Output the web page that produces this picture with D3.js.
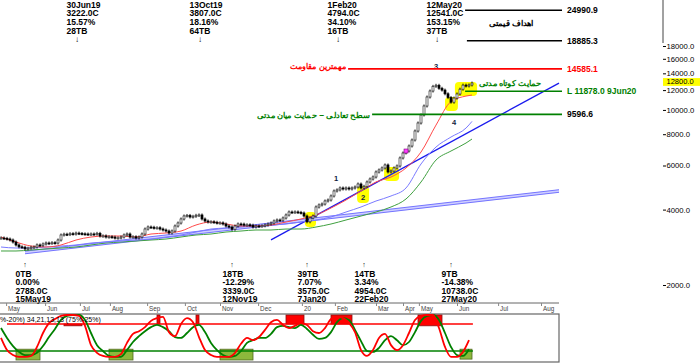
<!DOCTYPE html>
<html>
<head>
<meta charset="utf-8">
<script src="https://cdn.jsdelivr.net/npm/d3@7"></script>
<style>
  body { margin: 0; background: #fff; overflow: hidden; }
  svg { display: block; }
  text { font-family: "Liberation Sans", Arial, sans-serif; }
  .fa { font-family: "DejaVu Sans", sans-serif; font-weight: bold; }
</style>
</head>
<body>
<svg></svg>
<script>
// daily closes, one value per bar (May 2019 .. Jun 2020)
const closes = [3081, 3070, 3052, 3024, 2969, 2889, 2840, 2830, 2788, 2805,
  2830, 2836, 2889, 2880, 2915, 2942, 2935, 2950, 2942, 3024,
  3167, 3190, 3180, 3205, 3195, 3222, 3210, 3200, 3196, 3185,
  3196, 3190, 3215, 3138, 3140, 3109, 3115, 3105, 3081, 3085,
  3109, 3167, 3196, 3109, 3115, 3081, 3109, 3196, 3346, 3408,
  3400, 3377, 3385, 3346, 3316, 3285, 3226, 3285, 3440, 3536,
  3669, 3771, 3790, 3737, 3760, 3795, 3807, 3669, 3602, 3569,
  3575, 3560, 3536, 3540, 3504, 3440, 3408, 3339, 3440, 3504,
  3500, 3472, 3478, 3465, 3408, 3440, 3435, 3445, 3472, 3504,
  3536, 3602, 3635, 3630, 3702, 3806, 3912, 3905, 3915, 3900,
  3877, 3771, 3575, 3702, 3771, 4097, 4173, 4211, 4329, 4369,
  4533, 4746, 4794, 4879, 4834, 4879, 4834, 4879, 4924, 5061,
  4879, 4954, 5155, 5299, 5398, 5652, 5757, 5864, 6028, 5652,
  5704, 5864, 5973, 6430, 6730, 6855, 7177, 7584, 8238, 8867,
  9544, 10367, 11261, 11900, 12420, 12541, 12200, 12000, 11600, 11200,
  10738, 11150, 11580, 12100, 12560, 12460, 12580, 12800];

// moving averages, read every 5 bars plus the last bar
const maBars = d3.range(0, 156, 5).concat([157]);
const maFast = [3109, 2969, 2862, 2836, 2889, 3024, 3109, 3138, 3138, 3109, 3196, 3226, 3285, 3472, 3569, 3504,
  3440, 3440, 3472, 3569, 3669, 3806, 4059, 4369, 4746, 5155, 5398, 5864, 6790, 8700, 10800, 11360, 11470];
const maMid = [2836, 2810, 2810, 2836, 2862, 2889, 2942, 2969, 2997, 3024, 3052, 3109, 3167, 3255, 3346, 3377,
  3408, 3440, 3472, 3504, 3569, 3635, 3737, 3912, 4097, 4329, 4533, 4879, 6084, 7110, 7795, 8464, 9000];
const maSlow = [2734, 2734, 2759, 2785, 2810, 2836, 2889, 2942, 2969, 2997, 3024, 3052, 3109, 3167, 3196, 3255,
  3285, 3316, 3316, 3346, 3346, 3408, 3504, 3635, 3771, 3912, 4097, 4410, 5155, 6309, 6855, 7376, 7654];

// trend lines: [bar, price] end points
const trendSteep = [[90, 3030], [186, 12800]];
const trendLong = [[8, 2697], [186, 4745]];

// price targets / support / resistance
const levelValues = [24990.9, 18885.3, 14585.1, 11878.0, 9596.6];
const levelLabels = ["24990.9", "18885.3", "14585.1", "L 11878.0 9Jun20", "9596.6"];
const levelStartBars = [154.7, 155.3, 115.7, 154.7, 123.7];
const levelEndBar = 187;

// zigzag turning points
const peakDates = ["30Jun19", "13Oct19", "1Feb20", "12May20"];
const peakBars = [25, 66, 112, 145];
const peakCloses = [3222.0, 3807.0, 4794.0, 12541.0];
const peakPct = ["15.57%", "18.16%", "34.10%", "153.15%"];
const peakTB = ["28TB", "64TB", "16TB", "37TB"];

const troughDates = ["15May19", "12Nov19", "7Jan20", "22Feb20", "27May20"];
const troughBars = [8, 77, 102, 121, 150];
const troughCloses = [2788.0, 3339.0, 3575.0, 4954.0, 10738.0];
const troughPct = ["0.00%", "-12.29%", "7.07%", "3.34%", "-14.38%"];
const troughTB = ["0TB", "18TB", "39TB", "14TB", "9TB"];

// wave counts
const waveLabels = ["1", "2", "3", "4"];
const waveBars = [111.7, 120.7, 145, 151];
const wavePrices = [5348, 4491, 14966, 8948];

// yellow highlighted zones
const hlBar0 = [101.3, 118.7, 127.7, 148, 151.3];
const hlBar1 = [105, 122.7, 132.7, 152.3, 158.7];
const hlHigh = [3912, 4969, 5918, 11261, 12926];
const hlLow = [3408, 4250, 5203, 9903, 11360];

// price axis
const priceTicks = [18000, 16000, 14000, 12000, 10000, 8000, 6000, 4000, 2000];

// month axis
const monthLabels = ["May", "Jun", "Jul", "Aug", "Sep", "Oct", "Nov", "Dec", "20", "Feb", "Mar", "Apr", "May", "Jun", "Jul", "Aug"];
const monthBars = [1.7, 14.7, 26.3, 36.3, 48.7, 61.3, 73, 85.7, 100.3, 111.3, 125, 134, 139.3, 152, 165.7, 180];

// stochastic 34,21,13,13 every 2 bars
const stochBars = d3.range(0, 157, 2);
const stochK = [49, 22, 11, 7, 7, 9, 29, 60, 82, 91, 98, 100, 100, 98, 76, 33, 16, 9, 7, 7,
  13, 38, 58, 64, 73, 87, 93, 96, 62, 53, 80, 93, 84, 51, 22, 11, 7, 7, 7, 16,
  36, 49, 44, 51, 67, 84, 89, 78, 71, 76, 82, 78, 64, 60, 71, 91, 96, 93, 82, 62,
  22, 9, 22, 49, 58, 33, 22, 33, 60, 89, 98, 100, 100, 71, 29, 7, 7, 18, 44];
const stochD = [71, 49, 31, 18, 11, 11, 16, 31, 51, 69, 89, 98, 100, 100, 89, 60, 33, 20, 9, 7,
  7, 22, 40, 53, 64, 73, 78, 73, 64, 51, 49, 60, 73, 78, 62, 38, 22, 11, 7, 9,
  20, 38, 44, 49, 49, 58, 73, 76, 73, 71, 78, 69, 56, 47, 49, 62, 84, 93, 89, 67,
  42, 20, 18, 27, 44, 53, 44, 33, 40, 62, 87, 98, 100, 89, 60, 29, 11, 9, 24];
const obStart = [21, 52, 65, 95, 110, 139];
const obEnd = [27, 53, 66, 101, 117, 147];
const obTop = [80, 100, 100, 100, 100, 100];
const obBottom = [76, 80, 80, 80, 80, 76];
const osStart = [5, 36, 73, 153];
const osEnd = [13, 44, 84, 157];
const osTop = [24, 24, 24, 24];
const osBottom = [0, 0, 0, 2];

const width = 700, height = 363;
const svg = d3.select("svg").attr("width", width).attr("height", height);

const x = d3.scaleLinear().domain([0, 157]).range([1, 472]);
const y = d3.scaleLog().domain([2000, 18000]).range([285, 46]);
const ys = d3.scaleLinear().domain([0, 100]).range([360, 315]);
const fmt = d3.format(".1f");

//gelbe Markierungen
svg.append("g")
    .selectAll("rect")
    .data(hlBar0)
    .enter()
    .append("rect")
    .attr("x", d => x(d))
    .attr("width", (d, i) => x(hlBar1[i]) - x(d))
    .attr("y", (d, i) => y(hlHigh[i]))
    .attr("height", (d, i) => y(hlLow[i]) - y(hlHigh[i]))
    .attr("rx", 4)
    .attr("fill", "#ffff00");

//Trendlinien
const tl = d3.line().x(d => x(d[0])).y(d => y(d[1]));
svg.append("path").attr("d", tl(trendLong))
    .attr("fill", "none").attr("stroke", "#cfcfff").attr("stroke-width", 3);
[-1.3, 1.3].forEach(off => {
    svg.append("path").attr("d", tl(trendLong))
        .attr("transform", `translate(0,${off})`)
        .attr("fill", "none").attr("stroke", "#5a5aff").attr("stroke-width", 0.8);
});
svg.append("path").attr("d", tl(trendSteep))
    .attr("fill", "none").attr("stroke", "#1a1aee").attr("stroke-width", 1.3);

//gleitende Durchschnitte
const maLine = d3.line().curve(d3.curveMonotoneX).x((d, i) => x(maBars[i])).y(d => y(d));
[[maSlow, "#3fa03f"], [maMid, "#7a7aff"], [maFast, "#ff4a4a"]].forEach(m => {
    svg.append("path").attr("d", maLine(m[0]))
        .attr("fill", "none").attr("stroke", m[1]).attr("stroke-width", 1);
});

//Kerzen
const openOf = i => i ? closes[i - 1] : closes[0];
const candles = svg.append("g").attr("class", "candles")
    .selectAll("g")
    .data(closes)
    .enter()
    .append("g");
candles.append("line")
    .attr("x1", (d, i) => x(i)).attr("x2", (d, i) => x(i))
    .attr("y1", (d, i) => y(Math.max(d, openOf(i))) - 1.5)
    .attr("y2", (d, i) => y(Math.min(d, openOf(i))) + 1.5)
    .attr("stroke", "#111").attr("stroke-width", 1);
candles.append("rect")
    .attr("x", (d, i) => x(i) - 1)
    .attr("width", 2)
    .attr("y", (d, i) => y(Math.max(d, openOf(i))))
    .attr("height", (d, i) => Math.max(1, y(Math.min(d, openOf(i))) - y(Math.max(d, openOf(i)))))
    .attr("fill", (d, i) => d >= openOf(i) ? "#fff" : "#000")
    .attr("stroke", (d, i) => d >= openOf(i) ? "#333" : "#000")
    .attr("stroke-width", 0.7);

//magenta Punkt
svg.append("rect")
    .attr("x", x(135) - 2).attr("y", y(closes[135]) - 2)
    .attr("width", 4).attr("height", 4)
    .attr("fill", "#ff40ff").attr("stroke", "#800080").attr("stroke-width", 0.6);

//Wellen
svg.append("g").selectAll("text")
    .data(waveLabels)
    .enter()
    .append("text")
    .attr("x", (d, i) => x(waveBars[i]))
    .attr("y", (d, i) => y(wavePrices[i]) + 3)
    .attr("text-anchor", "middle")
    .attr("font-size", 7.5).attr("font-weight", "bold").attr("fill", "#102040")
    .text(d => d);

//Niveaus
const levelColors = ["#000", "#000", "#ff0000", "#008000", "#008000"];
const levelTextColors = ["#000", "#000", "#ff0000", "#008000", "#000"];
svg.append("g").selectAll("line")
    .data(levelValues)
    .enter()
    .append("line")
    .attr("x1", (d, i) => x(levelStartBars[i]))
    .attr("x2", x(levelEndBar))
    .attr("y1", d => y(d)).attr("y2", d => y(d))
    .attr("stroke", (d, i) => levelColors[i]).attr("stroke-width", 1.6);
svg.append("g").selectAll("text")
    .data(levelValues)
    .enter()
    .append("text")
    .attr("x", x(levelEndBar) + 5)
    .attr("y", d => y(d) + 3)
    .attr("font-size", 8.5).attr("font-weight", "bold")
    .attr("fill", (d, i) => levelTextColors[i])
    .text((d, i) => levelLabels[i]);

//persische Beschriftungen
const fa = svg.append("g").attr("class", "fa").attr("text-anchor", "middle").attr("font-size", 8.3);
fa.append("text").attr("x", x(levelStartBars[0]) + 46).attr("y", Math.sqrt(y(levelValues[0]) * y(levelValues[1])) + 5)
    .attr("fill", "#000").attr("textLength", 45).attr("lengthAdjust", "spacingAndGlyphs")
    .text("اهداف قیمتی");
fa.append("text").attr("x", x(levelStartBars[2]) - 30).attr("y", y(levelValues[2]) + 0.5)
    .attr("fill", "#ff0000").attr("textLength", 56).attr("lengthAdjust", "spacingAndGlyphs")
    .text("مهمترین مقاومت");
fa.append("text").attr("x", x(levelStartBars[3]) + 45).attr("y", y(levelValues[3]) - 5)
    .attr("fill", "#008000").attr("textLength", 62).attr("lengthAdjust", "spacingAndGlyphs")
    .text("حمایت کوتاه مدتی");
fa.append("text").attr("x", x(levelStartBars[4]) - 58.5).attr("y", y(levelValues[4]) + 3.5)
    .attr("fill", "#008000").attr("textLength", 113).attr("lengthAdjust", "spacingAndGlyphs")
    .text("سطح تعادلی – حمایت میان مدتی");

//Hochpunkte oben
const peakLines = [peakDates, peakCloses.map(v => fmt(v) + "C"), peakPct, peakTB];
const peaks = svg.append("g").attr("font-size", 8.5).attr("font-weight", "bold");
peakLines.forEach((arr, k) => {
    peaks.append("g").selectAll("text")
        .data(arr)
        .enter()
        .append("text")
        .attr("x", (d, i) => x(peakBars[i]) - 9.5)
        .attr("y", 7.5 + k * 8.8)
        .text(d => d);
});
peaks.append("g").selectAll("text")
    .data(peakBars)
    .enter()
    .append("text")
    .attr("x", d => x(d) + 1)
    .attr("y", 42)
    .attr("text-anchor", "middle")
    .attr("font-weight", "normal").attr("font-size", 8)
    .attr("font-family", "DejaVu Sans")
    .text("↓");

//Tiefpunkte unten
const troughLines = [troughTB, troughPct, troughCloses.map(v => fmt(v) + "C"), troughDates];
const troughs = svg.append("g").attr("font-size", 8.5).attr("font-weight", "bold");
troughLines.forEach((arr, k) => {
    troughs.append("g").selectAll("text")
        .data(arr)
        .enter()
        .append("text")
        .attr("x", (d, i) => x(troughBars[i]) - 9.5)
        .attr("y", 276.5 + k * 8.6)
        .text(d => d);
});
troughs.append("g").selectAll("text")
    .data(troughBars)
    .enter()
    .append("text")
    .attr("x", d => x(d))
    .attr("y", 267)
    .attr("text-anchor", "middle")
    .attr("font-weight", "normal").attr("font-size", 7)
    .attr("font-family", "DejaVu Sans")
    .text("↑");

//Preisachse
const axisX = 663;
svg.append("line")
    .attr("x1", axisX).attr("x2", axisX)
    .attr("y1", 0).attr("y2", y(priceTicks[0]) - 3)
    .attr("stroke", "#444");
const yAxis = svg.append("g")
    .attr("transform", `translate(${axisX},0)`)
    .call(d3.axisRight(y).tickValues(priceTicks).tickFormat(fmt).tickSize(3).tickPadding(0.5));
yAxis.select(".domain").remove();
yAxis.attr("font-family", "Liberation Sans").attr("font-size", 7.7);
yAxis.selectAll("text").attr("fill", "#000");
yAxis.selectAll("line").attr("stroke", "#000");

const last = closes[closes.length - 1];
svg.append("rect")
    .attr("x", axisX).attr("width", width - axisX)
    .attr("y", y(last) - 5).attr("height", 7.8)
    .attr("fill", "#ffff00");
svg.append("text")
    .attr("x", axisX + 3.5).attr("y", y(last) + 1.3)
    .attr("font-size", 7.5).attr("fill", "#000")
    .text(fmt(last));

//Monatsachse
const rightBar = 186;
svg.append("line")
    .attr("x1", 0).attr("x2", x(rightBar))
    .attr("y1", 303).attr("y2", 303)
    .attr("stroke", "#666").attr("stroke-width", 1);
const xAxis = svg.append("g")
    .attr("transform", "translate(0,303)")
    .call(d3.axisBottom(x).tickValues(monthBars).tickFormat((d, i) => monthLabels[i]).tickSize(3));
xAxis.select(".domain").remove();
xAxis.attr("font-size", 6.3).attr("font-family", "Liberation Sans");
xAxis.selectAll("line").attr("stroke", "#888");
xAxis.selectAll("text").attr("text-anchor", "start").attr("x", 1.5).attr("y", 4).attr("fill", "#444");

//Stochastik
const st = svg.append("g");
st.append("rect")
    .attr("x", -1).attr("y", 314)
    .attr("width", x(rightBar) + 1).attr("height", 48)
    .attr("fill", "#fff").attr("stroke", "#666").attr("stroke-width", 1.2);

st.append("g").selectAll("rect")
    .data(obStart)
    .enter()
    .append("rect")
    .attr("x", d => x(d))
    .attr("width", (d, i) => x(obEnd[i]) - x(d))
    .attr("y", (d, i) => ys(obTop[i]))
    .attr("height", (d, i) => ys(obBottom[i]) - ys(obTop[i]))
    .attr("fill", "#ff0000").attr("stroke", "#8a1010").attr("stroke-width", 0.8);
st.append("g").selectAll("rect")
    .data(osStart)
    .enter()
    .append("rect")
    .attr("x", d => x(d))
    .attr("width", (d, i) => x(osEnd[i]) - x(d))
    .attr("y", (d, i) => ys(osTop[i]))
    .attr("height", (d, i) => ys(osBottom[i]) - ys(osTop[i]))
    .attr("fill", "#8db83c").attr("stroke", "#4f6a1e").attr("stroke-width", 0.8);

st.append("line")
    .attr("x1", x(2)).attr("x2", x(157.3))
    .attr("y1", ys(80)).attr("y2", ys(80))
    .attr("stroke", "#ff0000").attr("stroke-width", 1.5);
st.append("line")
    .attr("x1", 0).attr("x2", x(157.3))
    .attr("y1", ys(20)).attr("y2", ys(20))
    .attr("stroke", "#008000").attr("stroke-width", 1.5);

const stLine = d3.line().curve(d3.curveMonotoneX).x((d, i) => x(stochBars[i])).y(d => ys(d));
st.append("path").attr("d", stLine(stochD))
    .attr("fill", "none").attr("stroke", "#008000").attr("stroke-width", 1.8);
st.append("path").attr("d", stLine(stochK))
    .attr("fill", "none").attr("stroke", "#ff0000").attr("stroke-width", 1.8);

st.append("text")
    .attr("x", 0).attr("y", 321.5)
    .attr("font-size", 7).attr("fill", "#000")
    .text("%-20%) 34,21,13,13 (75%-25%)");
</script>
</body>
</html>
